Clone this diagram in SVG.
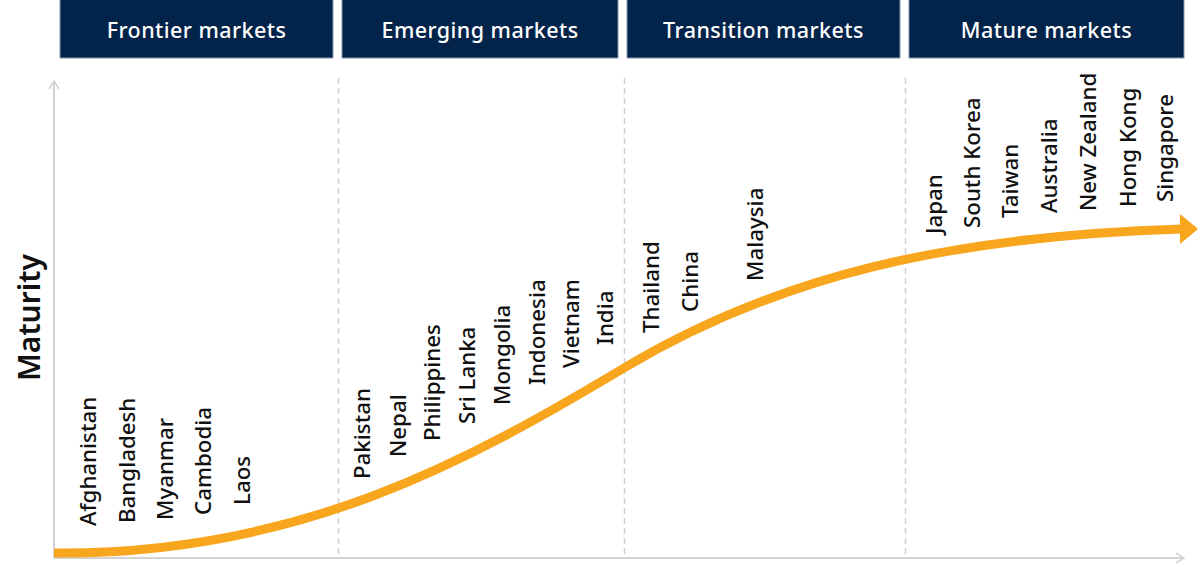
<svg xmlns="http://www.w3.org/2000/svg" width="1200" height="570" viewBox="0 0 1200 570">
<defs>
<style>
.hdr{fill:#03244a;stroke:#8796ab;stroke-width:1}
.hdrt{fill:#ffffff;font-family:"Noto Sans","Liberation Sans",sans-serif;font-size:21.5px;font-weight:500;text-anchor:middle;letter-spacing:0.45px}
.lbl{fill:#111111;font-family:"Noto Sans","Liberation Sans",sans-serif;font-size:22.3px;font-weight:500}
.axis{stroke:#d3d3d3;stroke-width:2;fill:none}
.div{stroke:#cfcfcf;stroke-width:1.5;stroke-dasharray:6 4;fill:none}
.curve{stroke:#f8a61d;stroke-width:9;fill:none}
</style>
<marker id="axh" viewBox="0 0 12 12" refX="10" refY="6" markerWidth="12" markerHeight="12" markerUnits="userSpaceOnUse" orient="auto">
<path d="M2,1 L10,6 L2,11" fill="none" stroke="#d3d3d3" stroke-width="1.5"/>
</marker>
</defs>
<rect width="1200" height="570" fill="#ffffff"/>
<g id="header-frontier"><rect class="hdr" x="60" y="-1" width="273" height="59"/><text class="hdrt" x="196.5" y="38">Frontier markets</text></g>
<g id="header-emerging"><rect class="hdr" x="342" y="-1" width="276" height="59"/><text class="hdrt" x="480" y="38">Emerging markets</text></g>
<g id="header-transition"><rect class="hdr" x="627" y="-1" width="273" height="59"/><text class="hdrt" x="763.5" y="38">Transition markets</text></g>
<g id="header-mature"><rect class="hdr" x="909" y="-1" width="275" height="59"/><text class="hdrt" x="1046.5" y="38">Mature markets</text></g>
<g id="connectors">
<line class="axis" x1="54" y1="558" x2="54" y2="81" marker-end="url(#axh)"/>
<line class="axis" x1="54" y1="558" x2="1184" y2="558" marker-end="url(#axh)"/>
<line class="div" x1="338.5" y1="78" x2="338.5" y2="556"/>
<line class="div" x1="624.5" y1="78" x2="624.5" y2="556"/>
<line class="div" x1="905.5" y1="78" x2="905.5" y2="556"/>
<path class="curve" d="M54,553 C300,555 470,460 624,368 C778,276 950,236 1182,229"/>
<polygon points="1198,229 1180,214 1180,244" fill="#f8a61d"/>
</g>
<g id="y-label"><text transform="translate(40,381) rotate(-90)" fill="#111111" font-family="'Noto Sans','Liberation Sans',sans-serif" font-size="30" font-weight="600">Maturity</text></g>
<g id="labels-frontier">
<text class="lbl" transform="translate(96,526) rotate(-90)">Afghanistan</text>
<text class="lbl" transform="translate(135,523) rotate(-90)">Bangladesh</text>
<text class="lbl" transform="translate(173,520) rotate(-90)">Myanmar</text>
<text class="lbl" transform="translate(211,515) rotate(-90)">Cambodia</text>
<text class="lbl" transform="translate(250,505) rotate(-90)">Laos</text>
</g>
<g id="labels-emerging">
<text class="lbl" transform="translate(370,479) rotate(-90)">Pakistan</text>
<text class="lbl" transform="translate(406,457) rotate(-90)">Nepal</text>
<text class="lbl" transform="translate(440,441) rotate(-90)">Philippines</text>
<text class="lbl" transform="translate(475,424) rotate(-90)">Sri Lanka</text>
<text class="lbl" transform="translate(510,405) rotate(-90)">Mongolia</text>
<text class="lbl" transform="translate(545,385) rotate(-90)">Indonesia</text>
<text class="lbl" transform="translate(579,368) rotate(-90)">Vietnam</text>
<text class="lbl" transform="translate(613,345) rotate(-90)">India</text>
</g>
<g id="labels-transition">
<text class="lbl" transform="translate(659,333) rotate(-90)">Thailand</text>
<text class="lbl" transform="translate(698,312) rotate(-90)">China</text>
<text class="lbl" transform="translate(763,281) rotate(-90)">Malaysia</text>
</g>
<g id="labels-mature">
<text class="lbl" transform="translate(942,234) rotate(-90)">Japan</text>
<text class="lbl" transform="translate(980,228) rotate(-90)">South Korea</text>
<text class="lbl" transform="translate(1018,218) rotate(-90)">Taiwan</text>
<text class="lbl" transform="translate(1057,213) rotate(-90)">Australia</text>
<text class="lbl" transform="translate(1096,211) rotate(-90)">New Zealand</text>
<text class="lbl" transform="translate(1136,207) rotate(-90)">Hong Kong</text>
<text class="lbl" transform="translate(1173,202) rotate(-90)">Singapore</text>
</g>
</svg>
